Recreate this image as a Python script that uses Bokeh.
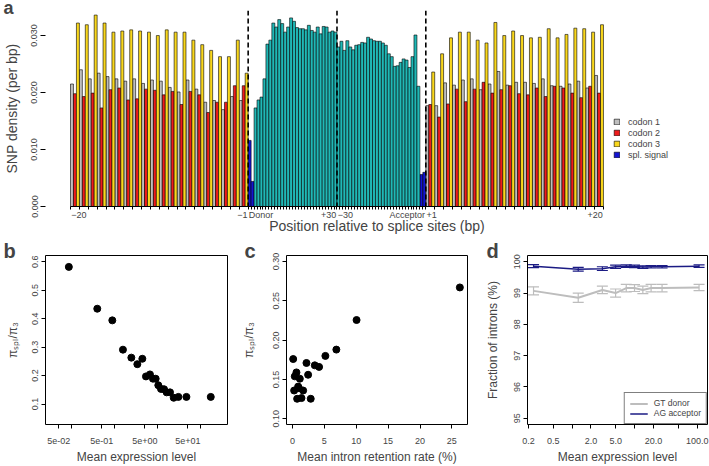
from bokeh.plotting import figure
from bokeh.models import (Range1d, FixedTicker, Legend, LegendItem, Span,
                          ColumnDataSource, Whisker, TeeHead, PrintfTickFormatter)
from bokeh.layouts import column, row
from bokeh.embed import file_html
from bokeh.resources import INLINE

FONT = "Liberation Sans"

# ---------------- panel a data (SNP density per bp) ----------------
exon5_codon1 = [0.0215, 0.0240, 0.0224, 0.0234, 0.0228, 0.0224, 0.0220, 0.0224, 0.0216, 0.0222,
                0.0220, 0.0209, 0.0201, 0.0222, 0.0206, 0.0183, 0.0186, 0.0170, 0.0193, 0.0186]
exon5_codon2 = [0.0198, 0.0193, 0.0199, 0.0173, 0.0205, 0.0208, 0.0187, 0.0189, 0.0206, 0.0204,
                0.0196, 0.0202, 0.0179, 0.0202, 0.0196, 0.0165, 0.0183, 0.0183, 0.0212, 0.0212]
exon5_codon3 = [0.0322, 0.0319, 0.0336, 0.0322, 0.0306, 0.0308, 0.0310, 0.0308, 0.0306, 0.0300,
                0.0310, 0.0306, 0.0306, 0.0292, 0.0284, 0.0274, 0.0263, 0.0263, 0.0292, 0.0234]
donor_signal = [0.0116, 0.0044]
donor_intron = [0.0173, 0.0187, 0.0192, 0.0224, 0.0285, 0.0292, 0.0322, 0.0315, 0.0328, 0.0321,
                0.0306, 0.0315, 0.0331, 0.0325, 0.0314, 0.0312, 0.0312, 0.0310, 0.0318, 0.0309,
                0.0306, 0.0315, 0.0303, 0.0316, 0.0315, 0.0306, 0.0308, 0.0306]
acceptor_intron = [0.0280, 0.0290, 0.0274, 0.0291, 0.0280, 0.0275, 0.0283, 0.0284, 0.0288, 0.0287,
                   0.0297, 0.0294, 0.0291, 0.0290, 0.0290, 0.0287, 0.0283, 0.0268, 0.0263, 0.0246,
                   0.0247, 0.0253, 0.0259, 0.0257, 0.0244, 0.0263, 0.0301, 0.0211]
acceptor_signal = [0.0056, 0.0060]
exon3_codon1 = [0.0177, 0.0177, 0.0217, 0.0213, 0.0222, 0.0224, 0.0205, 0.0215, 0.0237, 0.0213,
                0.0218, 0.0218, 0.0216, 0.0224, 0.0212, 0.0211, 0.0215, 0.0220, 0.0208, 0.0230]
exon3_codon2 = [0.0179, 0.0157, 0.0180, 0.0206, 0.0184, 0.0206, 0.0218, 0.0199, 0.0205, 0.0212,
                0.0198, 0.0196, 0.0208, 0.0193, 0.0211, 0.0208, 0.0199, 0.0191, 0.0211, 0.0199]
exon3_codon3 = [0.0236, 0.0268, 0.0296, 0.0306, 0.0306, 0.0292, 0.0287, 0.0323, 0.0300, 0.0308,
                0.0300, 0.0296, 0.0297, 0.0312, 0.0296, 0.0302, 0.0313, 0.0312, 0.0306, 0.0319]
a_tick_labels = ["\u221220", "\u22121", "Donor", "+30", "\u221230", "Acceptor", "+1", "+20"]
legend_labels = ["codon 1", "codon 2", "codon 3", "spl. signal"]

# ---------------- panel b data ----------------
b_expression = [0.0855, 0.392, 0.877, 1.55, 2.43, 3.35, 4.38, 5.32, 6.59, 7.74,
                8.95, 10.3, 11.9, 14.0, 16.1, 19.3, 23.5, 30.2, 46.4, 171.0]
b_ratio = [0.582, 0.435, 0.394, 0.291, 0.263, 0.240, 0.259, 0.197, 0.204, 0.189,
           0.189, 0.166, 0.153, 0.152, 0.141, 0.141, 0.122, 0.125, 0.125, 0.125]

# ---------------- panel c data ----------------
c_retention = [0.11, 0.62, 0.36, 0.26, 0.89, 1.15, 0.73, 1.41, 1.67, 2.19,
               2.45, 2.86, 3.5, 4.17, 5.16, 6.88, 10.05, 26.25, 1.0]
c_ratio = [0.176, 0.159, 0.154, 0.136, 0.141, 0.151, 0.1255, 0.1264, 0.136, 0.171,
           0.156, 0.1255, 0.168, 0.166, 0.180, 0.188, 0.2256, 0.267, 0.139]

# ---------------- panel d data ----------------
d_expression = [0.241, 1.25, 3.04, 4.95, 7.33, 9.93, 13.5, 18.3, 27.4, 107.0]
gt_donor = [99.07, 98.85, 99.10, 99.00, 99.16, 99.16, 99.10, 99.16, 99.16, 99.18]
gt_err = [0.13, 0.15, 0.12, 0.13, 0.12, 0.11, 0.12, 0.12, 0.12, 0.10]
ag_acceptor = [99.86, 99.76, 99.78, 99.84, 99.86, 99.85, 99.83, 99.84, 99.84, 99.86]
ag_err = [0.05, 0.06, 0.06, 0.05, 0.04, 0.04, 0.04, 0.04, 0.04, 0.04]

GREY, RED, GOLD, BLUE, TEAL = "#BEBEBE", "#EE1C1C", "#F9D71C", "#1414D2", "#20B8B6"

# Arial/Liberation Sans advance widths (per 1000 em), used to place tick texts
ADV = {"\u2212": 584, "+": 584, "0": 556, "1": 556, "2": 556, "3": 556, "D": 722, "o": 556,
       "n": 556, "r": 333, "A": 667, "c": 500, "e": 556, "p": 556, "t": 278}


def text_w(s, size):
    return sum(ADV.get(ch, 556) for ch in s) * size / 1000.0


def style_axes(p):
    p.xgrid.grid_line_color = None
    p.ygrid.grid_line_color = None
    for ax in (p.xaxis[0], p.yaxis[0]):
        ax.major_label_text_font = FONT
        ax.axis_label_text_font = FONT
        ax.axis_label_text_font_style = "normal"
        ax.major_tick_in = 0
        ax.minor_tick_in = 0
        ax.major_tick_out = 4
        ax.minor_tick_out = 4
        ax.major_label_text_font_size = "9px"
        ax.axis_label_text_font_size = "12px"
        ax.major_label_standoff = 3
        ax.axis_line_color = None
    p.yaxis.major_label_orientation = "vertical"


def panel_letter(p, letter, offset, standoff, size="20px"):
    p.title.text = letter
    p.title.text_font = FONT
    p.title.text_font_style = "bold"
    p.title.text_font_size = size
    p.title.align = "left"
    p.title.offset = offset
    p.title.standoff = standoff


W_TOTAL, H_TOTAL, H_A = 709, 466, 241

# =============== panel a ===============
n5 = 3 * len(exon5_codon1)
don_sig0 = n5
don_int0 = don_sig0 + len(donor_signal)
acc_int0 = don_int0 + len(donor_intron)
acc_sig0 = acc_int0 + len(acceptor_intron)
n3_0 = acc_sig0 + len(acceptor_signal)
n_total = n3_0 + 3 * len(exon3_codon1)

cx = {1: [], 2: [], 3: []}
ct = {1: [], 2: [], 3: []}
for start, cols in ((0, (exon5_codon1, exon5_codon2, exon5_codon3)),
                    (n3_0, (exon3_codon1, exon3_codon2, exon3_codon3))):
    for k in range(len(cols[0])):
        for j in range(3):
            cx[j + 1].append(start + 3 * k + j + 0.5)
            ct[j + 1].append(cols[j][k])
sig_x = [don_sig0 + i + 0.5 for i in range(len(donor_signal))] + \
        [acc_sig0 + i + 0.5 for i in range(len(acceptor_signal))]
sig_t = donor_signal + acceptor_signal
int_x = [don_int0 + i + 0.5 for i in range(len(donor_intron))] + \
        [acc_int0 + i + 0.5 for i in range(len(acceptor_intron))]
int_t = donor_intron + acceptor_intron

BL_A, BR_A = 45, 1
FW_A = W_TOTAL - BL_A - BR_A
unit_px = 2.961
xa0 = -25.0 / unit_px
xa1 = xa0 + FW_A / unit_px
pa = figure(width=W_TOTAL, height=H_A, min_border_left=BL_A, min_border_right=BR_A,
            min_border_top=10, min_border_bottom=35,
            x_range=Range1d(xa0, xa1), y_range=Range1d(0, 0.0344),
            output_backend="svg", toolbar_location=None)
pa.outline_line_color = None
style_axes(pa)
bar_kw = dict(width=1, bottom=0, line_color="black", line_width=0.6)
r1 = pa.vbar(x=cx[1], top=ct[1], fill_color=GREY, **bar_kw)
r2 = pa.vbar(x=cx[2], top=ct[2], fill_color=RED, **bar_kw)
r3 = pa.vbar(x=cx[3], top=ct[3], fill_color=GOLD, **bar_kw)
r4 = pa.vbar(x=sig_x, top=sig_t, fill_color=BLUE, **bar_kw)
pa.vbar(x=int_x, top=int_t, fill_color=TEAL, **bar_kw)

for loc in (n5, acc_int0, n3_0):
    pa.add_layout(Span(location=loc, dimension="height", line_color="black",
                       line_width=1.6, line_dash="5 3"))

pa.yaxis.ticker = FixedTicker(ticks=[0, 0.01, 0.02, 0.03])
pa.yaxis.formatter = PrintfTickFormatter(format="%.3f")
pa.yaxis.major_tick_out = 5
pa.yaxis.major_label_standoff = 3
pa.yaxis.axis_label = "SNP density (per bp)"
pa.yaxis.axis_label_text_font_size = "14px"
pa.yaxis.axis_label_standoff = 9

# tick texts: left- or right-aligned to the region boundaries
bounds_pos = [(0, 1), (n5, -1), (n5, 1), (acc_int0, -1), (acc_int0, 1),
              (n3_0, -1), (n3_0, 1), (n_total, -1)]
label_ticks = []
overrides = {}
for (b, side), txt in zip(bounds_pos, a_tick_labels):
    t = b + side * (text_w(txt, 9) / 2 + 0.7) / unit_px
    label_ticks.append(t)
    overrides[t] = txt
boundaries = [0, n5, acc_int0, n3_0, n_total]
minor = list(range(0, n5 + 1, 3)) + list(range(n5 + 1, n3_0)) + list(range(n3_0, n_total + 1, 3))
pa.xaxis.ticker = FixedTicker(ticks=label_ticks, minor_ticks=sorted(set(minor + boundaries)))
pa.xaxis.bounds = (0, n_total)
pa.xaxis.axis_line_color = "black"
pa.xaxis.major_tick_line_color = None
pa.xaxis.major_tick_out = 3
pa.xaxis.minor_tick_out = 3
pa.xaxis.major_label_standoff = 0
pa.xaxis.major_label_overrides = overrides
pa.xaxis.axis_label = "Position relative to splice sites (bp)"
pa.xaxis.axis_label_text_font_size = "14px"
pa.xaxis.axis_label_standoff = -5

leg_a = Legend(items=[LegendItem(label=l, renderers=[r]) for l, r in zip(legend_labels, [r1, r2, r3, r4])],
               location=(568, 46), glyph_width=7, glyph_height=7, label_height=11, spacing=0,
               padding=0, margin=0, label_standoff=8, label_text_font=FONT,
               label_text_font_size="9px", border_line_color=None, background_fill_alpha=0)
pa.add_layout(leg_a)
panel_letter(pa, "a", -42, -15, size="18px")

# =============== panels b, c, d ===============
PI_LABEL = "\u03c0\u209b\u209a\u2097/\u03c0\u2083"
common = dict(height=H_TOTAL - H_A, min_border_top=14, min_border_bottom=41,
              output_backend="svg", toolbar_location=None)


def bottom_x_axis(p):
    p.xaxis.major_label_standoff = 9
    p.xaxis.axis_label_standoff = 3


pb = figure(x_axis_type="log", x_range=Range1d(0.0245, 419), y_range=Range1d(0.028, 0.622),
            width=238, min_border_left=45, min_border_right=11, **common)
style_axes(pb)
bottom_x_axis(pb)
pb.outline_line_color = "black"
pb.scatter(b_expression, b_ratio, size=7, color="black")
pb.xaxis.ticker = FixedTicker(ticks=[0.05, 0.5, 5, 50], minor_ticks=[0.1, 1, 10, 100])
pb.xaxis.major_label_overrides = {0.05: "5e-02", 0.5: "5e-01", 5: "5e+00", 50: "5e+01"}
pb.yaxis.ticker = FixedTicker(ticks=[0.1, 0.2, 0.3, 0.4, 0.5, 0.6])
pb.yaxis.formatter = PrintfTickFormatter(format="%.1f")
pb.xaxis.axis_label = "Mean expression level"
pb.yaxis.axis_label = PI_LABEL
pb.yaxis.axis_label_standoff = 10
panel_letter(pb, "b", -42, -12)

pc = figure(x_range=Range1d(-0.94, 27.45), y_range=Range1d(0.0928, 0.3076),
            width=244, min_border_left=47, min_border_right=15, **common)
style_axes(pc)
bottom_x_axis(pc)
pc.outline_line_color = "black"
pc.scatter(c_retention, c_ratio, size=7, color="black")
pc.xaxis.ticker = FixedTicker(ticks=[0, 5, 10, 15, 20, 25])
pc.yaxis.ticker = FixedTicker(ticks=[0.10, 0.15, 0.20, 0.25, 0.30])
pc.yaxis.formatter = PrintfTickFormatter(format="%.2f")
pc.xaxis.axis_label = "Mean intron retention rate (%)"
pc.yaxis.axis_label = PI_LABEL
pc.yaxis.axis_label_standoff = 15
panel_letter(pc, "c", -42, -12)

pd_ = figure(x_axis_type="log", x_range=Range1d(0.193, 146), y_range=Range1d(94.8, 100.2),
             width=227, min_border_left=44, min_border_right=2, **common)
style_axes(pd_)
bottom_x_axis(pd_)
pd_.outline_line_color = "black"
srcg = ColumnDataSource(dict(x=d_expression, y=gt_donor,
                             lo=[v - e for v, e in zip(gt_donor, gt_err)],
                             hi=[v + e for v, e in zip(gt_donor, gt_err)]))
srca = ColumnDataSource(dict(x=d_expression, y=ag_acceptor,
                             lo=[v - e for v, e in zip(ag_acceptor, ag_err)],
                             hi=[v + e for v, e in zip(ag_acceptor, ag_err)]))
GCOL, NCOL = "#BDBDBD", "#1B1B84"
rg = pd_.line("x", "y", source=srcg, line_color=GCOL, line_width=2)
ra = pd_.line("x", "y", source=srca, line_color=NCOL, line_width=1.5)
for src, col in ((srcg, GCOL), (srca, NCOL)):
    pd_.add_layout(Whisker(source=src, base="x", lower="lo", upper="hi", dimension="height",
                           line_color=col, line_width=1.2,
                           upper_head=TeeHead(size=11, line_color=col, line_width=1.2),
                           lower_head=TeeHead(size=11, line_color=col, line_width=1.2)))
pd_.xaxis.ticker = FixedTicker(ticks=[0.2, 0.5, 2, 5, 20, 100], minor_ticks=[1, 10, 50])
pd_.xaxis.major_label_overrides = {0.2: "0.2", 0.5: "0.5", 2: "2.0", 5: "5.0", 20: "20.0", 100: "100.0"}
pd_.yaxis.ticker = FixedTicker(ticks=[95, 96, 97, 98, 99, 100])
pd_.xaxis.axis_label = "Mean expression level"
pd_.yaxis.axis_label = "Fraction of introns (%)"
pd_.yaxis.axis_label_standoff = 12
leg_d = Legend(items=[LegendItem(label="GT donor", renderers=[rg]),
                      LegendItem(label="AG acceptor", renderers=[ra])],
               location="bottom_right", margin=0, padding=5, spacing=0, glyph_width=18,
               glyph_height=9, label_height=9, label_standoff=6, label_text_font=FONT,
               label_text_font_size="8.5px", border_line_color="black", border_line_width=1,
               background_fill_color="white", background_fill_alpha=1)
pd_.add_layout(leg_d)
panel_letter(pd_, "d", -41, -12)

layout = column(pa, row(pb, pc, pd_, spacing=0), spacing=0)
open("out.html", "w").write(file_html(layout, INLINE))
